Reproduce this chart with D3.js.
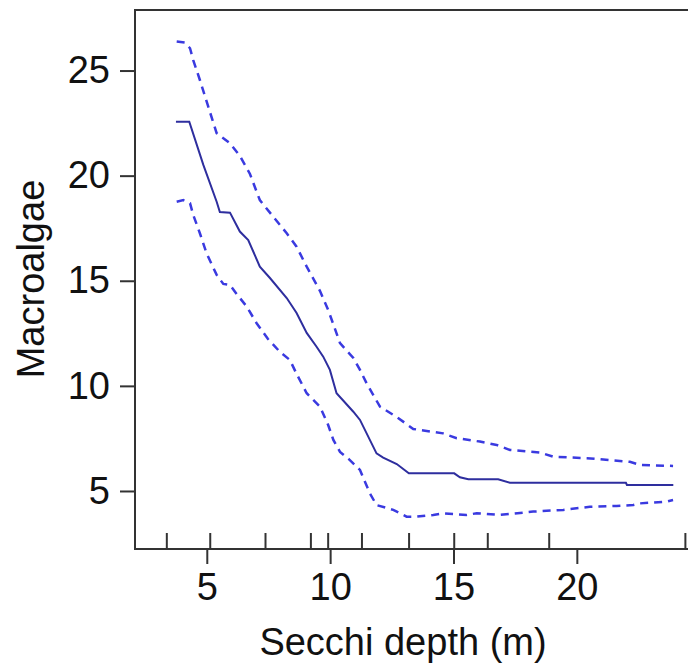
<!DOCTYPE html>
<html>
<head>
<meta charset="utf-8">
<script src="https://cdn.jsdelivr.net/npm/d3@7"></script>
<style>
  body { margin: 0; background: #fff; }
  svg { display: block; }
  text { font-family: "Liberation Sans", Arial, sans-serif; }
</style>
</head>
<body>
<svg width="688" height="667"></svg>
<script>
// fitted smooth (solid) and its upper / lower bands (dashed)
const fitX = [3.75, 4.29, 4.86, 5.40, 5.53, 5.94, 6.34, 6.68, 7.15, 7.56, 8.24, 8.64, 9.05, 9.45, 9.72, 9.99, 10.26, 10.94, 11.21, 11.88, 12.15, 12.70, 13.19, 15.03, 15.26, 15.60, 16.81, 17.29, 21.99, 22.03, 23.91];
const fitY = [22.57, 22.57, 20.51, 18.76, 18.27, 18.24, 17.34, 16.94, 15.67, 15.13, 14.18, 13.47, 12.52, 11.86, 11.39, 10.76, 9.65, 8.77, 8.38, 6.79, 6.59, 6.28, 5.84, 5.84, 5.65, 5.56, 5.56, 5.39, 5.39, 5.29, 5.29];

const upperX = [3.78, 4.11, 4.32, 4.45, 4.72, 5.06, 5.40, 5.94, 6.34, 6.75, 7.07, 7.15, 7.69, 8.24, 8.64, 9.05, 9.59, 9.92, 10.26, 10.40, 10.94, 11.21, 11.48, 12.02, 12.70, 13.37, 14.58, 15.13, 16.07, 16.75, 17.29, 18.50, 19.04, 20.40, 22.15, 22.56, 23.90];
const upperY = [26.38, 26.33, 26.06, 25.50, 24.55, 23.28, 22.02, 21.54, 20.94, 20.08, 19.08, 18.84, 18.05, 17.26, 16.62, 15.67, 14.51, 13.61, 12.50, 12.03, 11.33, 10.76, 10.12, 9.01, 8.52, 7.95, 7.74, 7.51, 7.35, 7.19, 6.95, 6.83, 6.63, 6.56, 6.39, 6.24, 6.19];

const lowerX = [3.78, 4.05, 4.32, 4.45, 4.72, 4.99, 5.40, 5.67, 5.94, 6.21, 6.62, 7.02, 7.48, 7.97, 8.37, 8.64, 9.05, 9.59, 9.92, 10.13, 10.40, 10.80, 11.21, 11.61, 11.88, 12.56, 13.10, 13.51, 14.18, 14.58, 15.53, 15.94, 16.88, 18.23, 19.45, 20.53, 21.61, 22.29, 22.56, 23.64, 23.90];
const lowerY = [18.76, 18.84, 18.69, 18.13, 17.26, 16.31, 15.28, 14.85, 14.80, 14.37, 13.77, 12.98, 12.23, 11.61, 11.23, 10.57, 9.65, 9.01, 8.14, 7.43, 6.86, 6.47, 6.00, 4.89, 4.33, 4.10, 3.78, 3.78, 3.86, 3.94, 3.86, 3.94, 3.86, 4.02, 4.10, 4.25, 4.29, 4.33, 4.41, 4.49, 4.57];

// observed Secchi depths (rug along the x axis)
const rugX = [3.38, 5.14, 7.38, 9.22, 9.92, 11.29, 13.2, 15.03, 16.39, 18.88, 24.4];

const xTicks = [5, 10, 15, 20];
const yTicks = [5, 10, 15, 20, 25];

const zip = (xs, ys) => xs.map((x, i) => ({ x: x, y: ys[i] }));

const svg = d3.select('svg');
const plot = { left: 135, top: 10, bottom: 549 };

const xScale = d3.scaleLinear()
    .domain([2.09, 25.5])
    .range([plot.left, plot.left + 24.67 * (25.5 - 2.09)]);

const yScale = d3.scaleLinear()
    .domain([2.24, 27.88])
    .range([plot.bottom, plot.top]);

const axisColor = '#333';

// frame (right side runs past the picture edge)
svg.append('rect')
    .attr('x', xScale(2.09))
    .attr('y', yScale(27.88))
    .attr('width', xScale(25.5) - xScale(2.09))
    .attr('height', yScale(2.24) - yScale(27.88))
    .attr('fill', 'none')
    .attr('stroke', axisColor)
    .attr('stroke-width', 2);

// x axis
const xAxis = svg.append('g')
    .attr('transform', `translate(0,${plot.bottom})`)
    .call(d3.axisBottom(xScale).tickValues(xTicks).tickFormat(d3.format('d'))
        .tickSize(15).tickSizeOuter(0).tickPadding(9));

// y axis
const yAxis = svg.append('g')
    .attr('transform', `translate(${plot.left},0)`)
    .call(d3.axisLeft(yScale).tickValues(yTicks).tickFormat(d3.format('d'))
        .tickSize(15).tickSizeOuter(0).tickPadding(10));

[xAxis, yAxis].forEach(g => {
    g.select('.domain').remove();
    g.selectAll('line').attr('stroke', axisColor).attr('stroke-width', 2);
    g.selectAll('text')
        .attr('fill', '#111')
        .style('font-size', '38px')
        .style('font-family', '"Liberation Sans", Arial, sans-serif');
});

// rug marks pointing up into the plot
svg.append('g')
    .selectAll('line')
    .data(rugX)
    .enter()
    .append('line')
    .attr('x1', d => xScale(d))
    .attr('x2', d => xScale(d))
    .attr('y1', plot.bottom)
    .attr('y2', plot.bottom - 16)
    .attr('stroke', axisColor)
    .attr('stroke-width', 2);

const line = d3.line()
    .x(d => xScale(d.x))
    .y(d => yScale(d.y));

svg.append('path')
    .datum(zip(upperX, upperY))
    .attr('d', line)
    .attr('fill', 'none')
    .attr('stroke', '#3a3ae0')
    .attr('stroke-width', 2.5)
    .attr('stroke-dasharray', '8,6');

svg.append('path')
    .datum(zip(lowerX, lowerY))
    .attr('d', line)
    .attr('fill', 'none')
    .attr('stroke', '#3a3ae0')
    .attr('stroke-width', 2.5)
    .attr('stroke-dasharray', '8,6');

svg.append('path')
    .datum(zip(fitX, fitY))
    .attr('d', line)
    .attr('fill', 'none')
    .attr('stroke', '#2e2e9e')
    .attr('stroke-width', 2);

// axis titles
svg.append('text')
    .attr('x', 403)
    .attr('y', 655)
    .attr('text-anchor', 'middle')
    .attr('fill', '#111')
    .style('font-size', '38px')
    .text('Secchi depth (m)');

svg.append('text')
    .attr('transform', 'translate(44,279) rotate(-90)')
    .attr('text-anchor', 'middle')
    .attr('fill', '#111')
    .style('font-size', '38px')
    .text('Macroalgae');
</script>
</body>
</html>
